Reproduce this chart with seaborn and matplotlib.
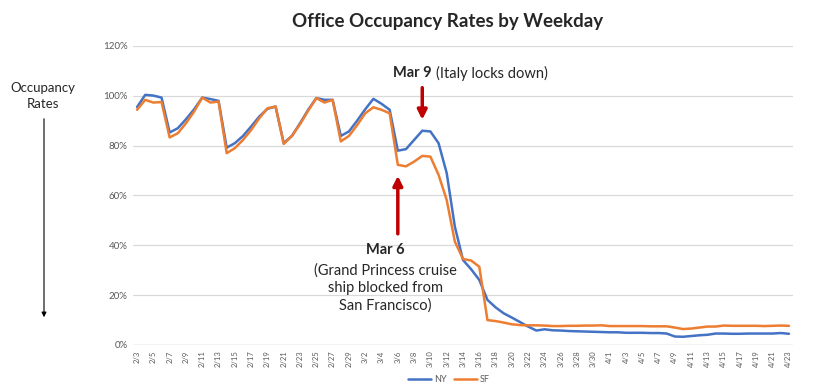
import pandas as pd
import numpy as np
import matplotlib
matplotlib.use("Agg")
import matplotlib.pyplot as plt
import seaborn as sns
from matplotlib.lines import Line2D
from matplotlib.patches import FancyArrowPatch

# Daily dates 2/3 .. 4/23 (2020)
dates = pd.date_range("2020-02-03", "2020-04-23", freq="D")
date_labels = [f"{d.month}/{d.day}" for d in dates]

# Occupancy rates (%)
ny = [95.5, 100.4, 100.1, 99.3, 85.3, 87.0, 90.6, 94.6, 99.3, 98.7,
      98.0, 79.2, 81.0, 83.9, 87.7, 91.7, 94.8, 95.7, 81.0, 83.9,
      89.0, 94.4, 99.1, 98.4, 98.4, 83.9, 85.7, 90.0, 94.6, 98.8,
      96.8, 94.4, 78.0, 78.6, 82.3, 86.0, 85.7, 81.0, 69.0, 47.5,
      34.1, 30.4, 26.1, 18.1, 15.1, 12.7, 11.0, 9.2, 7.4, 5.8,
      6.3, 5.9, 5.8, 5.6, 5.5, 5.4, 5.3, 5.2, 5.1, 5.1,
      4.9, 4.9, 4.9, 4.8, 4.8, 4.6, 3.4, 3.3, 3.6, 3.9,
      4.1, 4.6, 4.6, 4.5, 4.5, 4.6, 4.6, 4.6, 4.6, 4.8, 4.5]
sf = [94.4, 98.4, 97.3, 97.5, 83.3, 85.0, 89.0, 93.7, 99.3, 97.3,
      97.7, 77.0, 79.0, 82.3, 86.3, 91.0, 95.0, 95.7, 80.7, 83.9,
      88.6, 94.0, 99.1, 97.3, 98.4, 81.7, 83.9, 88.2, 93.0, 95.4,
      94.4, 93.0, 72.3, 71.7, 73.6, 75.9, 75.6, 68.3, 58.2, 41.5,
      34.5, 33.9, 31.4, 10.0, 9.6, 9.0, 8.3, 8.0, 7.9, 7.9,
      7.8, 7.6, 7.6, 7.7, 7.7, 7.8, 7.8, 7.9, 7.6, 7.6,
      7.6, 7.6, 7.6, 7.5, 7.5, 7.5, 7.0, 6.4, 6.6, 7.0,
      7.4, 7.4, 7.8, 7.7, 7.7, 7.7, 7.7, 7.6, 7.7, 7.8, 7.7]

df = pd.DataFrame({"idx": np.arange(len(dates)), "NY": ny, "SF": sf})
long_df = df.melt(id_vars="idx", var_name="city", value_name="rate")
long_df["rate"] = long_df["rate"] / 100

sns.set_style("white")
plt.rcParams["font.family"] = ["Lato", "DejaVu Sans"]

W, H = 813, 387
fig = plt.figure(figsize=(W / 100, H / 100), dpi=100)
ax = fig.add_axes([133 / W, 1 - 345 / H, (793 - 133) / W, (345 - 46) / H])

palette = {"NY": "#4472C4", "SF": "#ED7D31"}
sns.lineplot(data=long_df, x="idx", y="rate", hue="city", palette=palette,
             linewidth=1.8, ax=ax, legend=False)

ax.set_xlim(-0.5, len(dates) - 0.5)
ax.set_ylim(0, 1.2)
yt = np.arange(0, 1.21, 0.2)
ax.set_yticks(yt)
ax.set_yticklabels([f"{int(round(v * 100))}%" for v in yt], fontsize=7, color="#595959")
ax.set_xticks(np.arange(0, len(dates), 2))
ax.set_xticklabels(date_labels[::2], rotation=90, fontsize=5.5, color="#595959")
ax.tick_params(axis="both", length=0, pad=4)
ax.yaxis.grid(True, color="#D9D9D9", linewidth=0.9)
ax.set_axisbelow(True)
for s in ax.spines.values():
    s.set_visible(False)
ax.axhline(0, color="#D9D9D9", linewidth=1.0, zorder=0)
ax.set_xlabel("")
ax.set_ylabel("")

# Title
fig.text(448 / W, 1 - 21 / H, "Office Occupancy Rates by Weekday",
         ha="center", va="center", fontsize=13.5, fontweight="bold")

# Left axis caption with arrow
fig.text(43 / W, 1 - 96 / H, "Occupancy\nRates", ha="center", va="center",
         fontsize=9.5, linespacing=1.35)
fig.add_artist(FancyArrowPatch(
    (44 / W, 1 - 116 / H), (44 / W, 1 - 320 / H), transform=fig.transFigure,
    arrowstyle="-|>", mutation_scale=7, color="black", lw=0.8))

# Event annotations
red = "#C00000"
ax.annotate("", xy=(35, 0.893), xytext=(35, 1.044),
            arrowprops=dict(arrowstyle="-|>", color=red, lw=2.5, mutation_scale=14))
ax.annotate("", xy=(32, 0.69), xytext=(32, 0.435),
            arrowprops=dict(arrowstyle="-|>", color=red, lw=2.5, mutation_scale=14))

fig.text(432 / W, 1 - 73 / H, "Mar 9", ha="right", va="center",
         fontsize=10.5, fontweight="bold")
fig.text(436 / W, 1 - 73 / H, "(Italy locks down)", ha="left", va="center",
         fontsize=10.5)
fig.text(385 / W, 1 - 250 / H, "Mar 6", ha="center", va="center",
         fontsize=10.5, fontweight="bold")
fig.text(385 / W, 1 - 288 / H, "(Grand Princess cruise\nship blocked from\nSan Francisco)",
         ha="center", va="center", fontsize=10.5, linespacing=1.3)

# Legend
handles = [Line2D([], [], color=palette["NY"], lw=1.8),
           Line2D([], [], color=palette["SF"], lw=1.8)]
fig.legend(handles, ["NY", "SF"], loc="center", bbox_to_anchor=(449 / W, 1 - 380 / H),
           ncol=2, frameon=False, fontsize=6.5, handlelength=2.6, handletextpad=0.3,
           columnspacing=0.8, labelcolor="#595959")

fig.savefig("out.png", dpi=100)
